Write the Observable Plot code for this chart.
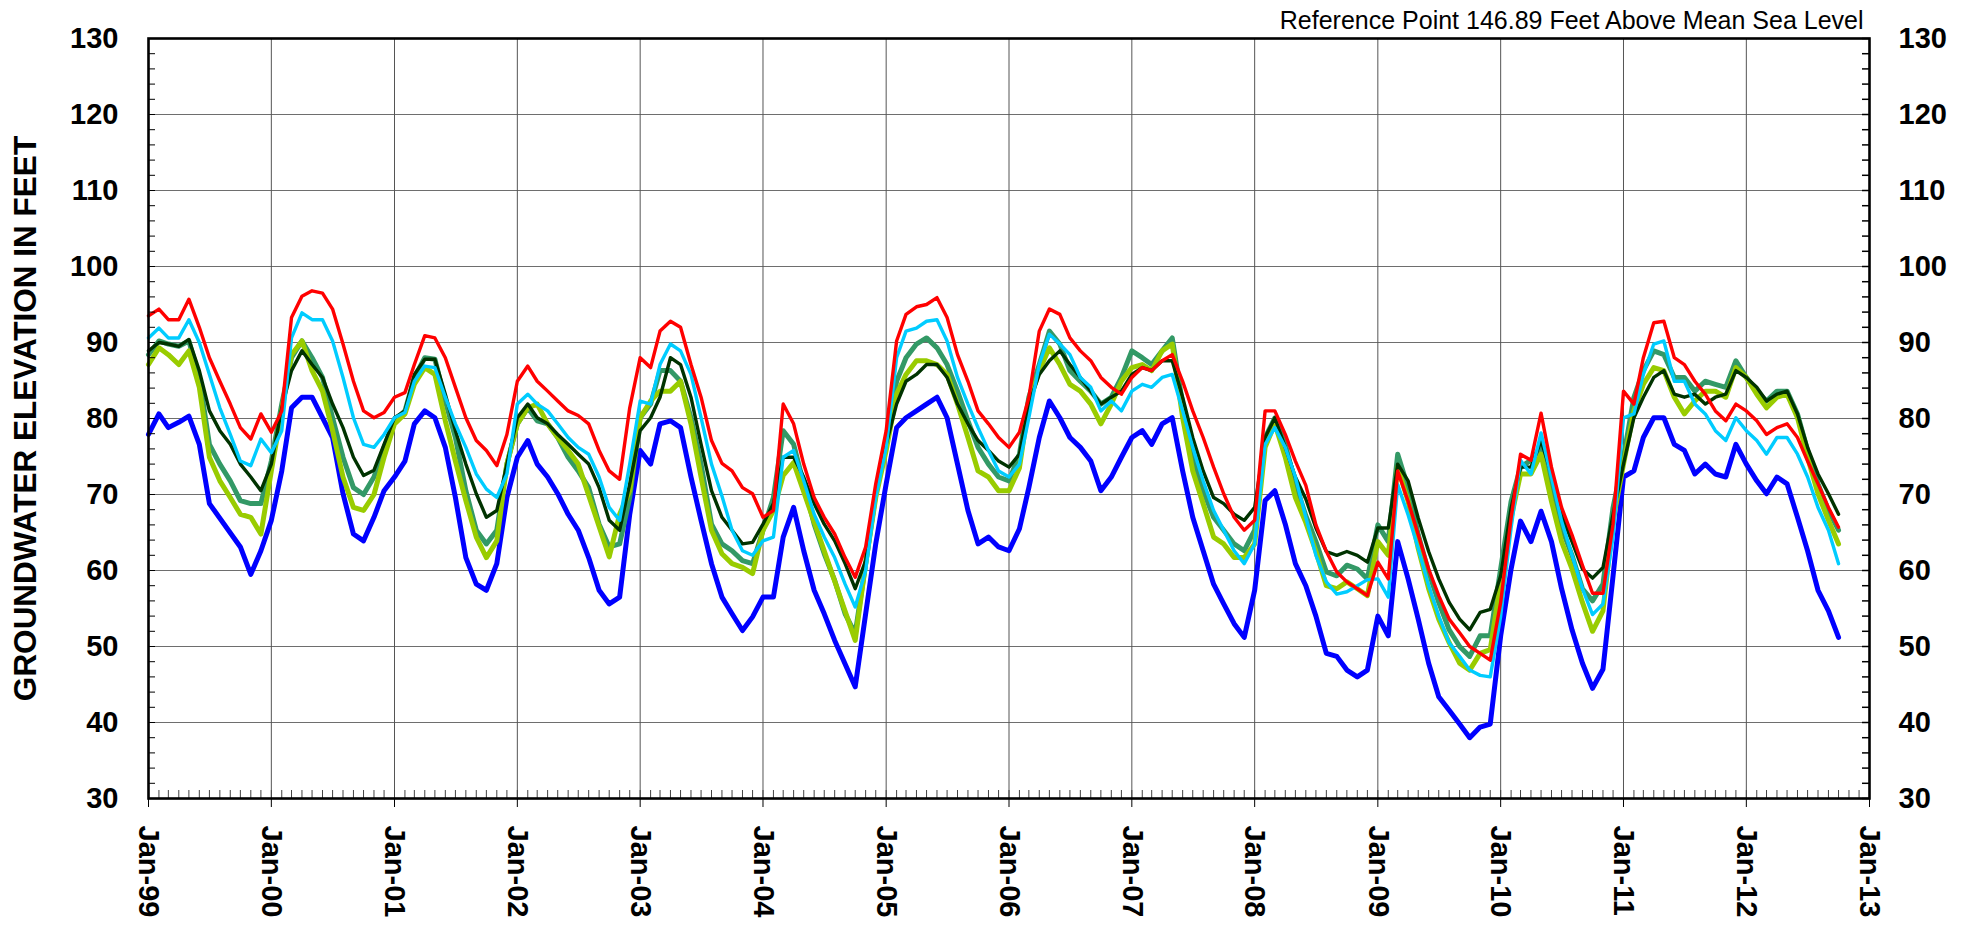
<!DOCTYPE html>
<html>
<head>
<meta charset="utf-8">
<script src="https://cdn.jsdelivr.net/npm/d3@7"></script>
<script src="https://cdn.jsdelivr.net/npm/@observablehq/plot@0.6"></script>
<style>
  html, body { margin: 0; padding: 0; background: #fff; }
  #chart svg { display: block; }
</style>
</head>
<body>
<div id="chart"></div>
<script>
// ---- Text ----
const yTitle = "GROUNDWATER ELEVATION IN FEET";
const referenceNote = "Reference Point 146.89 Feet Above Mean Sea Level";

// ---- Axis ticks ----
const yTicks = [30, 40, 50, 60, 70, 80, 90, 100, 110, 120, 130];
const yMinorTicks = [30, 32, 34, 36, 38, 40, 42, 44, 46, 48, 50, 52, 54, 56, 58, 60, 62, 64, 66, 68, 70, 72, 74, 76, 78, 80, 82, 84, 86, 88, 90, 92, 94, 96, 98, 100, 102, 104, 106, 108, 110, 112, 114, 116, 118, 120, 122, 124, 126, 128, 130];
const xTickYears = [1999, 2000, 2001, 2002, 2003, 2004, 2005, 2006, 2007, 2008, 2009, 2010, 2011, 2012, 2013];

// ---- Samples: one per month, first of month, starting Jan 1999 ----
const firstYear = 1999;
const sampleCount = 166;

// ---- Series values (feet), monthly from Jan-99; null = no data (line is bridged) ----
const redWell = [
  93.5, 94.4, 93.0, 93.0, 95.7, 92.0, 88.0, 84.9, 81.9, 78.8, 77.3, 80.6,
  78.2, 81.0, 93.3, 96.1, 96.8, 96.5, 94.4, 89.8, 84.9, 81.0, 80.1, 80.8,
  82.8, 83.4, 87.1, 90.9, 90.6, 88.0, 84.1, 80.1, 77.1, 75.8, 73.8, 77.9,
  84.9, 86.9, 84.9, 83.6, 82.3, 81.0, 80.4, 79.3, 75.8, 73.1, 72.0, 81.4,
  88.0, 86.7, 91.5, 92.8, 92.0, 87.1, 82.8, 77.1, 74.1, 73.1, 70.9, 70.1,
  67.0, 67.9, 81.9, 79.3, 74.0, 69.6, 67.0, 64.8, 61.7, 59.1, 63.1, 71.4,
  78.4, 90.2, 93.7, 94.7, 95.0, 95.9, 93.3, 88.4, 84.9, 81.0, 79.3, 77.5,
  76.2, 78.2, 82.8, 91.5, 94.4, 93.7, 90.6, 88.9, 87.6, 85.4, 84.1, 83.2,
  85.4, 86.7, 86.3, 87.6, 88.4, 84.9, 81.0, 77.5, 73.6, 70.1, 67.0, 65.3,
  66.6, 81.0, 81.0, 77.9, 74.4, 71.2, 66.0, 62.5, 59.8, 58.5, 57.6, 56.7,
  61.1, 58.9, 73.1, 69.1, 64.7, 60.2, 56.7, 53.6, 51.8, 50.0, 49.1, 48.2,
  55.8, 66.9, 75.3, 74.5, 80.7, 73.6, 68.3, 64.7, 60.7, 57.0, 57.0, 66.1,
  83.6, 81.9, 88.0, 92.6, 92.8, 88.0, 87.1, 84.9, 83.2, 81.0, 79.7, 81.9,
  81.0, 79.7, 77.9, 78.8, 79.3, 77.5, 74.4, 71.4, 68.3, 65.7
];
const cyanWell = [
  90.6, 91.9, 90.6, 90.6, 93.0, 90.0, 85.8, 81.4, 77.9, 74.4, 73.8, 77.3,
  75.5, 78.4, 90.6, 93.9, 93.0, 93.0, 90.2, 85.4, 80.1, 76.6, 76.2, 77.9,
  80.1, 80.8, 84.9, 86.9, 86.7, 82.8, 79.3, 76.2, 72.7, 70.7, 69.6, 72.7,
  81.9, 83.2, 81.9, 81.0, 79.3, 77.5, 76.2, 75.3, 72.3, 68.3, 66.6, 74.0,
  82.3, 81.9, 87.1, 89.8, 88.9, 85.8, 80.1, 74.0, 69.8, 65.3, 62.6, 62.0,
  63.9, 64.4, 74.9, 75.8, 71.8, 67.4, 64.4, 61.7, 58.2, 55.2, 60.0, 69.6,
  76.2, 88.0, 91.5, 91.9, 92.8, 93.0, 90.2, 85.4, 81.9, 78.8, 75.8, 73.1,
  72.3, 74.0, 80.1, 87.1, 91.1, 89.8, 88.4, 85.4, 84.1, 81.0, 82.3, 81.0,
  83.6, 84.5, 84.1, 85.4, 85.8, 81.0, 76.2, 71.8, 67.9, 65.3, 62.6, 60.9,
  63.5, 76.6, 78.8, 76.2, 72.3, 67.0, 62.0, 58.5, 56.9, 57.2, 58.0, 58.8,
  58.9, 56.5, 71.3, 67.3, 62.9, 58.0, 54.0, 50.5, 48.7, 46.9, 46.2, 46.0,
  54.0, 65.6, 74.5, 72.7, 78.1, 72.3, 66.5, 62.0, 57.6, 54.2, 55.6, 64.4,
  80.1, 80.6, 85.8, 89.8, 90.2, 84.9, 84.9, 81.9, 80.6, 78.4, 77.1, 80.1,
  78.4, 77.1, 75.3, 77.5, 77.5, 75.3, 72.3, 68.3, 65.3, 60.9
];
const darkGreenWell = [
  88.9, 90.0, 89.8, 89.5, 90.4, 86.3, 81.0, 78.4, 76.6, 74.0, 72.3, 70.5,
  74.0, 81.4, 86.3, 88.9, 87.1, 85.4, 81.9, 78.8, 74.9, 72.5, 73.2, 76.6,
  80.1, 81.0, 85.8, 87.8, 87.8, 83.2, 78.4, 74.0, 70.1, 67.0, 67.9, 74.0,
  80.1, 81.9, 80.1, 79.3, 77.9, 76.6, 75.3, 74.0, 70.9, 66.6, 65.3, 71.4,
  78.4, 80.1, 82.8, 88.0, 87.1, 82.8, 76.6, 70.5, 67.0, 65.3, 63.5, 63.7,
  66.1, 68.8, 74.9, 74.9, 72.3, 68.8, 66.1, 63.9, 60.9, 57.6, 61.3, 70.5,
  76.6, 81.9, 84.9, 85.8, 87.1, 87.1, 85.4, 81.9, 79.3, 77.1, 75.8, 74.4,
  73.6, 75.3, 81.9, 85.8, 87.6, 88.9, 87.1, 85.4, 83.6, 81.9, 82.8, 83.6,
  85.8, 86.7, 86.3, 87.6, 87.6, 82.8, 77.5, 73.1, 69.6, 68.8, 67.4, 66.6,
  68.3, 77.5, 80.1, 76.2, 72.3, 69.4, 65.6, 62.5, 62.0, 62.5, 62.0, 61.1,
  65.6, 65.6, 74.0, 71.8, 66.9, 62.5, 58.9, 55.8, 53.6, 52.2, 54.5, 54.9,
  59.3, 68.2, 73.6, 73.6, 77.1, 72.7, 67.3, 63.8, 60.2, 59.0, 60.4, 67.4,
  74.0, 80.1, 82.8, 85.4, 86.3, 83.2, 82.8, 83.2, 81.9, 82.8, 83.2, 86.3,
  85.4, 84.1, 82.3, 83.2, 83.6, 80.6, 76.2, 72.7, 70.1, 67.4
];
const seaGreenWell = [
  88.4, 90.2, 89.8, 89.5, 90.2, 85.4, 76.6, 74.0, 71.8, 69.2, 68.8, 68.8,
  74.4, 81.9, 88.0, 90.2, 88.0, 85.4, 80.1, 74.9, 70.9, 70.0, 72.3, 76.2,
  79.7, 81.0, 85.4, 88.0, 87.8, 82.3, 77.5, 70.5, 65.3, 63.5, 65.3, 74.0,
  79.3, 81.4, 79.7, 79.3, 77.5, 74.9, 73.1, 70.9, 66.1, 63.1, 63.5, 69.6,
  80.1, 81.9, 86.3, 86.3, 84.9, 80.1, 74.0, 66.1, 63.5, 62.6, 61.3, 60.9,
  65.3, 69.6, 78.4, 76.6, 71.4, 66.1, 62.2, 58.7, 54.3, 51.7, 60.9, 70.1,
  76.6, 84.9, 88.0, 89.8, 90.6, 89.3, 87.1, 83.6, 79.7, 76.2, 74.0, 72.3,
  71.8, 75.3, 82.8, 87.1, 91.5, 89.8, 86.3, 84.9, 83.6, 81.9, 82.8, 85.4,
  88.9, 88.0, 87.1, 88.9, 90.6, 81.9, 74.9, 70.5, 67.0, 65.3, 63.5, 62.6,
  65.3, 77.5, 80.1, 76.6, 71.4, 67.2, 63.8, 59.8, 59.3, 60.7, 60.2, 58.9,
  66.0, 63.8, 75.3, 70.9, 64.7, 59.8, 55.8, 52.2, 50.0, 48.7, 51.4, 51.4,
  60.2, 69.1, 73.6, 74.5, 76.2, 70.4, 65.6, 62.0, 57.6, 56.0, 58.2, 68.3,
  74.9, 82.8, 86.3, 88.9, 88.4, 85.4, 85.4, 83.6, 84.9, 84.5, 84.1, 87.6,
  85.4, 83.6, 82.3, 83.6, 83.6, 80.6, 75.8, 71.4, 67.9, 65.3
];
const yellowGreenWell = [
  87.1, 89.3, 88.4, 87.1, 88.9, 84.1, 74.9, 71.8, 69.6, 67.4, 67.0, 64.8,
  73.1, 81.0, 88.4, 90.2, 86.3, 83.6, 78.4, 72.3, 68.3, 67.9, 70.0, 74.9,
  79.3, 80.6, 84.5, 86.7, 85.8, 79.7, 74.4, 69.2, 64.4, 61.7, 63.9, 74.0,
  79.3, 81.4, 81.9, 79.3, 77.5, 75.8, 74.0, null, null, 61.8, 67.4, 70.5,
  80.1, 82.3, 83.6, 83.6, 84.9, 79.3, 72.3, 65.3, 62.2, 60.9, 60.4, 59.6,
  65.3, 67.9, 72.5, 74.2, null, null, null, null, null, 50.8, 60.9, 69.6,
  75.8, 83.2, 85.8, 87.6, 87.6, 87.1, 85.8, 81.9, 77.5, 73.1, 72.3, 70.5,
  70.5, 73.5, 81.9, 86.3, 89.3, 87.1, 84.5, 83.6, 81.9, 79.3, 81.9, 84.9,
  86.7, 87.1, 86.3, 88.9, 89.8, 80.1, 73.1, 68.8, 64.4, 63.5, 61.7, 61.7,
  63.5, 76.2, 79.3, 74.9, 69.6, 66.3, 62.5, 58.0, 57.6, 58.5, 57.6, 56.7,
  63.8, 62.0, 73.6, 69.1, 62.9, 57.6, 53.6, 50.5, 47.8, 46.9, 49.1, 49.6,
  58.5, 66.9, 72.7, 72.7, 75.3, 69.1, 63.8, 60.2, 55.8, 52.0, 54.7, 66.6,
  74.0, 81.0, 84.5, 86.7, 86.3, 82.8, 80.6, 82.3, 83.6, 83.6, 82.8, 86.7,
  85.4, 83.2, 81.4, 82.8, 83.2, 80.1, 74.9, 70.1, 66.6, 63.5
];
const blueWell = [
  77.9, 80.6, 78.8, 79.5, 80.3, 76.6, 68.8, null, null, 63.1, 59.5, 62.6,
  66.6, 73.1, 81.4, 82.8, 82.8, 80.1, 77.5, 70.1, 64.8, 63.9, 67.0, 70.5,
  72.3, 74.4, 79.3, 81.0, 80.1, 76.2, 69.6, 61.7, 58.2, 57.4, 60.9, 69.6,
  74.9, 77.1, 74.0, 72.3, 70.1, 67.4, 65.3, 61.7, 57.4, 55.6, 56.5, 67.4,
  75.8, 74.0, 79.3, 79.7, 78.8, 72.3, 66.6, 60.9, 56.5, 54.3, 52.1, 53.9,
  56.5, 56.5, 64.4, 68.3, 62.6, 57.4, 54.3, 50.8, null, 44.7, 54.3, 63.5,
  71.4, 78.8, 80.1, 81.0, 81.9, 82.8, 80.1, 74.0, 67.9, 63.5, 64.4, 63.1,
  62.6, 65.5, 70.9, 77.5, 82.3, 80.1, 77.5, 76.2, 74.4, 70.5, 72.3, 74.9,
  77.5, 78.4, 76.6, 79.3, 80.1, 73.1, 67.0, 62.6, 58.2, 55.6, 53.0, 51.2,
  57.4, 69.2, 70.5, 66.1, 60.9, 58.0, 54.0, 49.1, 48.7, 46.9, 46.0, 46.9,
  54.0, 51.4, 63.8, 58.9, 53.6, 47.8, 43.4, 41.6, 39.8, 38.0, 39.4, 39.8,
  51.4, 60.2, 66.5, 63.8, 67.8, 63.8, 57.6, 52.2, 47.8, 44.5, 47.0, 59.3,
  72.3, 73.1, 77.5, 80.1, 80.1, 76.6, 75.8, 72.7, 74.0, 72.7, 72.3, 76.6,
  74.0, 71.8, 70.1, 72.3, 71.4, 67.0, 62.6, 57.4, 54.7, 51.2
];

// ---- Series styling (draw order: first is bottom) ----
const seriesList = [
  {name: "blue", values: blueWell, color: "#0000FF", width: 5},
  {name: "seagreen", values: seaGreenWell, color: "#339966", width: 5},
  {name: "yellowgreen", values: yellowGreenWell, color: "#99CC00", width: 5},
  {name: "darkgreen", values: darkGreenWell, color: "#003300", width: 3.4},
  {name: "cyan", values: cyanWell, color: "#00CCFF", width: 3.4},
  {name: "red", values: redWell, color: "#FF0000", width: 3.4}
];

const sampleDates = d3.range(sampleCount).map(i => new Date(Date.UTC(firstYear, i, 1)));
const yearDates = xTickYears.map(y => new Date(Date.UTC(y, 0, 1)));
const monthDates = d3.utcMonths(yearDates[0], d3.utcDay.offset(yearDates[yearDates.length - 1], 1));
const fmt = d3.utcFormat("%b-%y");

const lineMarks = seriesList.map(s => {
  const rows = sampleDates
    .map((date, i) => ({date, value: s.values[i]}))
    .filter(d => d.value != null);
  return Plot.line(rows, {
    x: "date", y: "value", stroke: s.color, strokeWidth: s.width,
    strokeLinejoin: "round", strokeLinecap: "round"
  });
});

const chart = Plot.plot({
  width: 1974,
  height: 931,
  marginLeft: 148,
  marginRight: 105,
  marginTop: 38,
  marginBottom: 133,
  style: {
    fontFamily: "'Liberation Sans', Arial, sans-serif",
    fontSize: "29px",
    fontWeight: "bold",
    color: "#000",
    background: "#fff",
    overflow: "visible"
  },
  x: {type: "utc", domain: [yearDates[0], yearDates[yearDates.length - 1]], axis: null},
  y: {domain: [30, 130], axis: null},
  marks: [
    Plot.gridY(yTicks, {stroke: "#6e6e6e", strokeOpacity: 1, strokeWidth: 1}),
    Plot.gridX(yearDates, {stroke: "#555", strokeOpacity: 1, strokeWidth: 1}),
    ...lineMarks,
    // minor ticks inside the frame
    Plot.axisY(yMinorTicks, {anchor: "left", tickSize: 7, dx: 7, tickFormat: () => "", label: null, strokeWidth: 1}),
    Plot.axisY(yMinorTicks, {anchor: "right", tickSize: 8, dx: -8, tickFormat: () => "", label: null, strokeWidth: 1.5}),
    Plot.axisX(monthDates, {anchor: "bottom", tickSize: 8, dy: -8, tickFormat: () => "", label: null, strokeWidth: 1, stroke: "#444"}),
    // labelled axes
    Plot.axisY(yTicks, {anchor: "left", tickSize: 0, tickPadding: 30, label: null, tickFormat: d => String(d)}),
    Plot.axisY(yTicks, {anchor: "right", tickSize: 0, tickPadding: 29, label: null, tickFormat: d => String(d)}),
    Plot.axisX(yearDates, {anchor: "bottom", tickSize: 9, tickPadding: 18, tickRotate: 90, label: null, tickFormat: fmt}),
    Plot.frame({stroke: "#000", strokeWidth: 2.6}),
    Plot.text([yTitle], {text: d => d, frameAnchor: "left", dx: -123, rotate: -90, textAnchor: "middle", lineAnchor: "middle", fontSize: 31.5, fontWeight: "bold"}),
    Plot.text([referenceNote], {text: d => d, frameAnchor: "top-right", dx: -6, dy: -18, textAnchor: "end", lineAnchor: "middle", fontSize: 25, fontWeight: "normal"})
  ]
});
document.getElementById("chart").appendChild(chart);
</script>
</body>
</html>
